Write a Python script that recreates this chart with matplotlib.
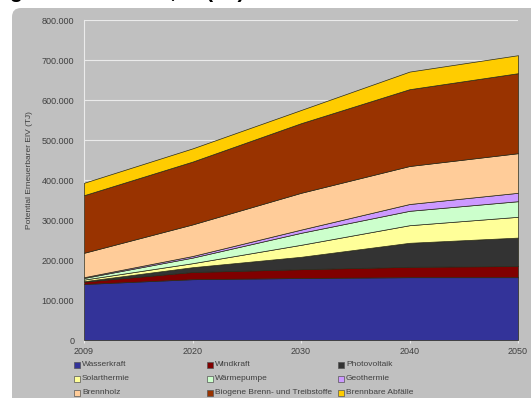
import numpy as np
import matplotlib.pyplot as plt
from matplotlib.patches import FancyBboxPatch, Rectangle
from matplotlib.transforms import IdentityTransform

# Potential erneuerbarer Energien, Werte in TJ
years = ["2009", "2020", "2030", "2040", "2050"]

wasserkraft = [140000, 152000, 155000, 157000, 157000]
windkraft = [6000, 18000, 22000, 26000, 28000]
photovoltaik = [1000, 12000, 31000, 60000, 71000]
solarthermie = [4000, 10000, 30000, 44000, 52000]
waermepumpe = [4000, 14000, 30000, 36000, 39000]
geothermie = [2000, 4000, 8000, 17000, 21000]
brennholz = [61000, 79000, 92000, 95000, 99000]
biogene = [144000, 157000, 174000, 192000, 200000]
abfaelle = [31000, 33000, 33000, 44000, 45000]

labels = ["Wasserkraft", "Windkraft", "Photovoltaik",
          "Solarthermie", "Wärmepumpe", "Geothermie",
          "Brennholz", "Biogene Brenn- und Treibstoffe", "Brennbare Abfälle"]
colors = ["#333399", "#800000", "#333333",
          "#FFFF99", "#CCFFCC", "#CC99FF",
          "#FFCC99", "#993300", "#FFCC00"]

series = [wasserkraft, windkraft, photovoltaik, solarthermie, waermepumpe,
          geothermie, brennholz, biogene, abfaelle]

W, H = 531, 398
plt.rcParams['font.family'] = ['Liberation Sans', 'DejaVu Sans']

fig = plt.figure(figsize=(W / 100, H / 100), dpi=100)
fig.patch.set_facecolor('white')

# grauer Diagrammbereich mit abgerundeten Ecken (Pixelkoordinaten)
bg = FancyBboxPatch((12, -20), 540, H - 8 + 20,
                    boxstyle="round,pad=0,rounding_size=9",
                    transform=IdentityTransform(), facecolor='#C0C0C0',
                    edgecolor='none', zorder=-5)
fig.patches.append(bg)

# abgeschnittener Titel am oberen Rand
fig.text(10 / W, 1 + 1.5 / H, "gien 2009 - 2050, in (TJ)", fontsize=15,
         fontweight='bold', color='black', ha='left', va='baseline')

ax = fig.add_axes([84 / W, 1 - 340 / H, (518 - 84) / W, 320 / H])
ax.set_zorder(2)
ax.set_facecolor('none')

x = np.arange(len(years))
ax.stackplot(x, *series, colors=colors, edgecolor='#2a2a1a', linewidth=0.5,
             zorder=3)

ax.set_xlim(0, len(years) - 1)
ax.set_ylim(0, 800000)
ax.set_yticks(np.arange(0, 800001, 100000))
ax.set_yticklabels([f"{v:,.0f}".replace(",", ".") for v in ax.get_yticks()])
ax.set_xticks(x)
ax.set_xticklabels(years)
ax.grid(axis='y', color='#EBEBEB', linewidth=0.8, zorder=1)
ax.set_axisbelow(True)

for s in ['top', 'right', 'bottom']:
    ax.spines[s].set_visible(False)
ax.spines['left'].set_color('#EBEBEB')
ax.spines['left'].set_linewidth(0.8)

ax.tick_params(axis='y', length=0, labelsize=6.5, labelcolor='#404040', pad=7)
ax.tick_params(axis='x', length=2, color='#EBEBEB', labelsize=6.5,
               labelcolor='#404040', pad=3)

ax.set_ylabel("Potential Erneuerbarer EIV (TJ)", fontsize=6, color='#404040')
ax.yaxis.set_label_coords(-0.118, 0.53)

# Legende, drei Spalten
col_x = [77, 210, 341]
row_y = [365, 379, 393]
for i, (lab, col) in enumerate(zip(labels, colors)):
    px = col_x[i % 3]
    py = row_y[i // 3]
    fig.patches.append(Rectangle((px - 3, H - py - 3), 6, 6,
                                 transform=IdentityTransform(), facecolor=col,
                                 edgecolor='#555555', linewidth=0.5))
    fig.text((px + 5) / W, 1 - py / H, lab, fontsize=6, color='#404040',
             ha='left', va='center')

fig.savefig("out.png", dpi=100)
